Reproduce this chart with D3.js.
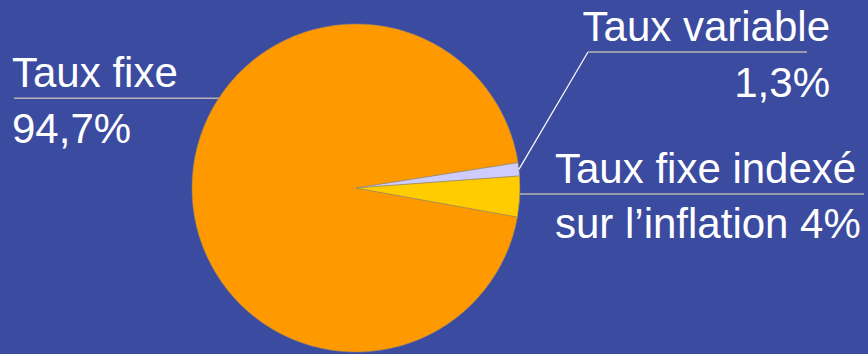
<!DOCTYPE html>
<html>
<head>
<meta charset="utf-8">
<script src="https://cdn.jsdelivr.net/npm/d3@7"></script>
<style>
  html, body { margin: 0; padding: 0; background: #3b4ba0; }
  svg { display: block; }
</style>
</head>
<body>
<script>
// data
const categories = ['Taux fixe', 'Taux variable', 'Taux fixe indexé sur l’inflation'];
const shares = [94.7, 1.3, 4];
const valueLabels = ['94,7%', '1,3%', '4%'];
const colors = ['#ff9900', '#ccccff', '#ffcc00'];

const box = {
  width: 868,
  height: 354,
  cx: 356,
  cy: 188,
  radius: 164,
  startDeg: 100.2
};

const svg = d3.select('body')
  .append('svg')
  .attr('width', box.width)
  .attr('height', box.height);

svg.append('rect')
  .attr('width', box.width)
  .attr('height', box.height)
  .attr('fill', '#3b4ba0');

const rad = d => d * Math.PI / 180;

const pie = d3.pie()
  .sort(null)
  .value(d => d)
  .startAngle(rad(box.startDeg))
  .endAngle(rad(box.startDeg) + 2 * Math.PI);

const arc = d3.arc()
  .innerRadius(0)
  .outerRadius(box.radius);

const arcs = pie(shares);

const g = svg.append('g')
  .attr('transform', `translate(${box.cx}, ${box.cy})`);

g.selectAll('path')
  .data(arcs)
  .enter()
  .append('path')
  .attr('d', arc)
  .attr('fill', (d, i) => colors[i])
  .attr('stroke', '#a08a60')
  .attr('stroke-width', 0.6);

// point on the rim at a given angle (clockwise from top)
function rim(a) {
  return [box.cx + box.radius * Math.sin(a), box.cy - box.radius * Math.cos(a)];
}

const font = "'Liberation Sans', Arial, sans-serif";

// Taux fixe : horizontal leader from the rim to the left
const pFixe = rim(rad(303.2));
svg.append('line')
  .attr('x1', 14).attr('y1', pFixe[1])
  .attr('x2', pFixe[0]).attr('y2', pFixe[1])
  .attr('stroke', '#b4b4b4').attr('stroke-width', 1.6);

// Taux variable : diagonal leader then underline
const midVar = (arcs[1].startAngle + arcs[1].endAngle) / 2;
const pVar = rim(midVar);
svg.append('line')
  .attr('x1', pVar[0]).attr('y1', pVar[1])
  .attr('x2', 588).attr('y2', 52)
  .attr('stroke', '#ffffff').attr('stroke-width', 1.2);
svg.append('line')
  .attr('x1', 588).attr('y1', 52)
  .attr('x2', 807).attr('y2', 52)
  .attr('stroke', '#b4b4b4').attr('stroke-width', 1.6);

// Taux fixe indexé : horizontal leader to the right
const pIdx = rim(rad(92.1));
svg.append('line')
  .attr('x1', pIdx[0]).attr('y1', pIdx[1])
  .attr('x2', 864).attr('y2', pIdx[1])
  .attr('stroke', '#b4b4b4').attr('stroke-width', 1.6);

const text = (x, y, s, anchor) => svg.append('text')
  .attr('x', x).attr('y', y)
  .attr('text-anchor', anchor || 'start')
  .attr('fill', '#ffffff')
  .style('font-family', font)
  .style('font-size', '42px')
  .text(s);

text(12, 87, categories[0]);
text(12, 143, valueLabels[0]);

text(830, 41, categories[1], 'end');
text(830, 97, valueLabels[1], 'end');

text(555, 183, 'Taux fixe indexé');
text(555, 238, 'sur l’inflation ' + valueLabels[2]);
</script>
</body>
</html>
